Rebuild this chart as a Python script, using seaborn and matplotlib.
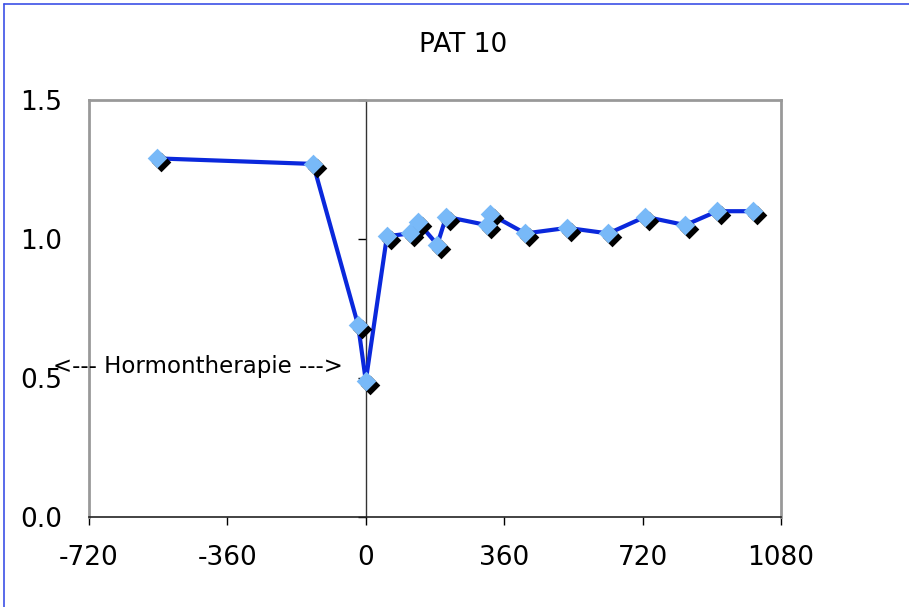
import matplotlib
matplotlib.use("Agg")
import matplotlib.pyplot as plt
from matplotlib.lines import Line2D
from matplotlib.transforms import offset_copy
import seaborn as sns
import pandas as pd

# Measurements for patient 10: days relative to start of hormone therapy
days = [-543, -137, -20, 0, 55, 115, 136, 186, 209, 315, 323, 415, 524, 631, 727, 831, 914, 1008]
values = [1.29, 1.27, 0.69, 0.49, 1.01, 1.02, 1.06, 0.98, 1.08, 1.05, 1.09, 1.02, 1.04, 1.02,
          1.08, 1.05, 1.10, 1.10]

x_ticks = [-720, -360, 0, 360, 720, 1080]
y_ticks = [0.0, 0.5, 1.0, 1.5]
y_tick_labels = ["0.0", "0.5", "1.0", "1.5"]

title = "PAT 10"
therapy_label = "<--- Hormontherapie --->"

df = pd.DataFrame({"day": days, "value": values})

sns.set_style("white")
plt.rcParams["font.family"] = ["DejaVu Sans"]
plt.rcParams["text.color"] = "black"
plt.rcParams["xtick.color"] = "black"
plt.rcParams["ytick.color"] = "black"

fig = plt.figure(figsize=(9.09, 6.07), dpi=100)
W, H = 909, 607
ax = fig.add_axes([89 / W, (H - 517) / H, (781 - 89) / W, (517 - 100) / H])

line_color = "#0a28dc"
marker_color = "#78b9f8"

sns.lineplot(data=df, x="day", y="value", ax=ax, sort=False, color=line_color,
             linewidth=3.0, zorder=3)

shadow = offset_copy(ax.transData, fig=fig, x=4, y=-4, units="dots")
sns.scatterplot(data=df, x="day", y="value", ax=ax, marker="D", s=100, color="black",
                linewidth=0, transform=shadow, zorder=4)
sns.scatterplot(data=df, x="day", y="value", ax=ax, marker="D", s=100, color=marker_color,
                linewidth=0, zorder=5)

ax.set_xlim(x_ticks[0], x_ticks[-1])
ax.set_ylim(0, 1.5)
ax.set_xticks(x_ticks)
ax.set_xticklabels([str(t) for t in x_ticks])
ax.set_yticks(y_ticks)
ax.set_yticklabels(y_tick_labels)
ax.set_xlabel("")
ax.set_ylabel("")

ax.tick_params(axis="x", direction="out", length=6, width=1, color="black",
               labelcolor="black", pad=14, labelsize=19, bottom=True)
ax.tick_params(axis="y", length=0, pad=19, labelsize=19, labelcolor="black", left=False)

for side in ["left", "top", "right"]:
    ax.spines[side].set_color("#999999")
    ax.spines[side].set_linewidth(2)
ax.spines["bottom"].set_color("#222222")
ax.spines["bottom"].set_linewidth(1.2)

# value axis crossing at day 0
zero_pos = (0 - x_ticks[0]) / (x_ticks[-1] - x_ticks[0])
yax = ax.secondary_yaxis(zero_pos)
yax.set_yticks(y_ticks)
yax.set_yticklabels([])
yax.tick_params(direction="out", length=6, width=1, color="black")
yax.spines["left"].set_color("#333333")
yax.spines["left"].set_linewidth(1)

ax.text(-436, 0.54, therapy_label, ha="center", va="center", fontsize=16.5,
        color="black", zorder=6)

fig.text(463 / W, 1 - 45 / H, title, ha="center", va="center", fontsize=19, color="black")

border = "#3c50e6"
fig.add_artist(Line2D([3.5 / W, 3.5 / W], [0, 1 - 3.5 / H], color=border, linewidth=1.2))
fig.add_artist(Line2D([3.5 / W, 1], [1 - 3.5 / H, 1 - 3.5 / H], color=border, linewidth=1.2))

fig.savefig("out.png", dpi=100)
